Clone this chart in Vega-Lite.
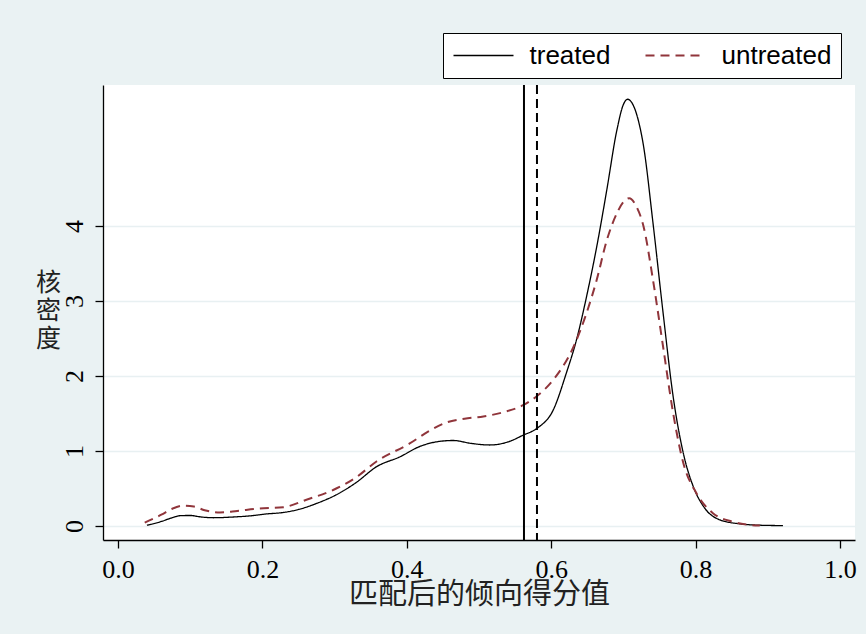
{
  "$schema": "https://vega.github.io/schema/vega-lite/v6.json",
  "width": 752,
  "height": 455,
  "autosize": {"type": "none"},
  "padding": {"left": 103, "top": 85, "right": 11, "bottom": 94},
  "background": "#EAF2F3",
  "config": {
    "view": {"fill": "white", "stroke": null},
    "axis": {
      "domainColor": "black",
      "domainWidth": 1.3,
      "tickColor": "black",
      "tickWidth": 1.3,
      "tickSize": 8,
      "labelColor": "black",
      "labelFont": "Liberation Serif",
      "labelFontSize": 26,
      "titleColor": "#222222",
      "titleFont": "Noto Sans CJK SC",
      "titleFontWeight": "normal",
      "titleFontSize": 29
    },
    "legend": {
      "orient": "none",
      "legendX": 340,
      "legendY": -52,
      "direction": "horizontal",
      "strokeColor": "black",
      "fillColor": "white",
      "padding": 9.5,
      "cornerRadius": 0,
      "symbolType": "M-1.2,0H4.8",
      "symbolSize": 400,
      "symbolStrokeWidth": 1.6,
      "labelFont": "Liberation Sans",
      "labelFontSize": 26,
      "labelColor": "black",
      "labelOffset": 51,
      "columnPadding": 31,
      "labelLimit": 300
    }
  },
  "data": {
    "values": [
      {"group": "treated", "x": 0.040, "y": 0.01},
      {"group": "treated", "x": 0.060, "y": 0.06},
      {"group": "treated", "x": 0.075, "y": 0.11},
      {"group": "treated", "x": 0.086, "y": 0.137},
      {"group": "treated", "x": 0.100, "y": 0.14},
      {"group": "treated", "x": 0.115, "y": 0.12},
      {"group": "treated", "x": 0.132, "y": 0.11},
      {"group": "treated", "x": 0.160, "y": 0.12},
      {"group": "treated", "x": 0.183, "y": 0.135},
      {"group": "treated", "x": 0.205, "y": 0.16},
      {"group": "treated", "x": 0.229, "y": 0.18},
      {"group": "treated", "x": 0.250, "y": 0.22},
      {"group": "treated", "x": 0.275, "y": 0.30},
      {"group": "treated", "x": 0.307, "y": 0.44},
      {"group": "treated", "x": 0.330, "y": 0.58},
      {"group": "treated", "x": 0.358, "y": 0.79},
      {"group": "treated", "x": 0.390, "y": 0.92},
      {"group": "treated", "x": 0.418, "y": 1.06},
      {"group": "treated", "x": 0.440, "y": 1.12},
      {"group": "treated", "x": 0.464, "y": 1.14},
      {"group": "treated", "x": 0.490, "y": 1.10},
      {"group": "treated", "x": 0.515, "y": 1.08},
      {"group": "treated", "x": 0.540, "y": 1.12},
      {"group": "treated", "x": 0.561, "y": 1.21},
      {"group": "treated", "x": 0.580, "y": 1.30},
      {"group": "treated", "x": 0.603, "y": 1.55},
      {"group": "treated", "x": 0.621, "y": 2.04},
      {"group": "treated", "x": 0.635, "y": 2.48},
      {"group": "treated", "x": 0.649, "y": 3.06},
      {"group": "treated", "x": 0.663, "y": 3.72},
      {"group": "treated", "x": 0.677, "y": 4.48},
      {"group": "treated", "x": 0.691, "y": 5.28},
      {"group": "treated", "x": 0.700, "y": 5.62},
      {"group": "treated", "x": 0.706, "y": 5.69},
      {"group": "treated", "x": 0.712, "y": 5.64},
      {"group": "treated", "x": 0.718, "y": 5.50},
      {"group": "treated", "x": 0.728, "y": 5.06},
      {"group": "treated", "x": 0.741, "y": 4.04},
      {"group": "treated", "x": 0.755, "y": 2.84},
      {"group": "treated", "x": 0.769, "y": 1.72},
      {"group": "treated", "x": 0.783, "y": 0.97},
      {"group": "treated", "x": 0.797, "y": 0.52},
      {"group": "treated", "x": 0.811, "y": 0.26},
      {"group": "treated", "x": 0.834, "y": 0.08},
      {"group": "treated", "x": 0.860, "y": 0.03},
      {"group": "treated", "x": 0.890, "y": 0.01},
      {"group": "treated", "x": 0.921, "y": 0.005},
      {"group": "untreated", "x": 0.037, "y": 0.044},
      {"group": "untreated", "x": 0.060, "y": 0.15},
      {"group": "untreated", "x": 0.075, "y": 0.23},
      {"group": "untreated", "x": 0.090, "y": 0.27},
      {"group": "untreated", "x": 0.105, "y": 0.26},
      {"group": "untreated", "x": 0.120, "y": 0.21},
      {"group": "untreated", "x": 0.141, "y": 0.18},
      {"group": "untreated", "x": 0.165, "y": 0.20},
      {"group": "untreated", "x": 0.192, "y": 0.23},
      {"group": "untreated", "x": 0.229, "y": 0.25},
      {"group": "untreated", "x": 0.261, "y": 0.35},
      {"group": "untreated", "x": 0.298, "y": 0.48},
      {"group": "untreated", "x": 0.330, "y": 0.65},
      {"group": "untreated", "x": 0.358, "y": 0.86},
      {"group": "untreated", "x": 0.404, "y": 1.10},
      {"group": "untreated", "x": 0.430, "y": 1.26},
      {"group": "untreated", "x": 0.455, "y": 1.38},
      {"group": "untreated", "x": 0.480, "y": 1.43},
      {"group": "untreated", "x": 0.506, "y": 1.46},
      {"group": "untreated", "x": 0.535, "y": 1.52},
      {"group": "untreated", "x": 0.561, "y": 1.61},
      {"group": "untreated", "x": 0.580, "y": 1.73},
      {"group": "untreated", "x": 0.603, "y": 1.95},
      {"group": "untreated", "x": 0.631, "y": 2.39},
      {"group": "untreated", "x": 0.649, "y": 2.84},
      {"group": "untreated", "x": 0.663, "y": 3.28},
      {"group": "untreated", "x": 0.677, "y": 3.81},
      {"group": "untreated", "x": 0.691, "y": 4.17},
      {"group": "untreated", "x": 0.700, "y": 4.32},
      {"group": "untreated", "x": 0.708, "y": 4.37},
      {"group": "untreated", "x": 0.718, "y": 4.26},
      {"group": "untreated", "x": 0.728, "y": 3.99},
      {"group": "untreated", "x": 0.741, "y": 3.28},
      {"group": "untreated", "x": 0.755, "y": 2.39},
      {"group": "untreated", "x": 0.769, "y": 1.50},
      {"group": "untreated", "x": 0.783, "y": 0.84},
      {"group": "untreated", "x": 0.801, "y": 0.44},
      {"group": "untreated", "x": 0.824, "y": 0.17},
      {"group": "untreated", "x": 0.850, "y": 0.06},
      {"group": "untreated", "x": 0.870, "y": 0.02},
      {"group": "untreated", "x": 0.889, "y": 0.005}
    ]
  },
  "layer": [
    {
      "mark": {"type": "line", "interpolate": "monotone"},
      "encoding": {
        "x": {
          "field": "x",
          "type": "quantitative",
          "scale": {"domain": [-0.0208, 1.0208], "nice": false, "zero": false},
          "axis": {
            "values": [0, 0.2, 0.4, 0.6, 0.8, 1.0],
            "format": ".1f",
            "grid": false,
            "labelPadding": 8,
            "labelFlush": false,
            "title": "匹配后的倾向得分值",
            "titleBaseline": "alphabetic",
            "titleY": 63
          }
        },
        "y": {
          "field": "y",
          "type": "quantitative",
          "scale": {"domain": [-0.187, 5.88], "nice": false, "zero": false},
          "axis": {
            "values": [0, 1, 2, 3, 4],
            "format": "d",
            "grid": true,
            "gridColor": "#E8F0F2",
            "gridWidth": 1.5,
            "labelAngle": -90,
            "labelAlign": "center",
            "labelBaseline": "alphabetic",
            "labelPadding": 13,
            "labelFlush": false,
            "title": ["核", "密", "度"],
            "titleFontSize": 25,
            "titleAngle": 0,
            "titleAlign": "center",
            "titleBaseline": "middle",
            "titleLineHeight": 28,
            "titleX": -55,
            "titleY": 197
          }
        },
        "color": {
          "field": "group",
          "type": "nominal",
          "scale": {"domain": ["treated", "untreated"], "range": ["black", "#90353B"]},
          "legend": {"title": null}
        },
        "strokeDash": {
          "field": "group",
          "type": "nominal",
          "scale": {"domain": ["treated", "untreated"], "range": [[1, 0], [9, 6]]},
          "legend": {"title": null}
        },
        "strokeWidth": {
          "field": "group",
          "type": "nominal",
          "scale": {"domain": ["treated", "untreated"], "range": [1.3, 2]},
          "legend": null
        }
      }
    },
    {
      "data": {"values": [{"x": 0.5623}]},
      "mark": {"type": "rule", "color": "black", "strokeWidth": 2},
      "encoding": {"x": {"field": "x", "type": "quantitative"}}
    },
    {
      "data": {"values": [{"x": 0.5803}]},
      "mark": {"type": "rule", "color": "black", "strokeWidth": 2, "strokeDash": [9, 5]},
      "encoding": {"x": {"field": "x", "type": "quantitative"}}
    }
  ]
}
